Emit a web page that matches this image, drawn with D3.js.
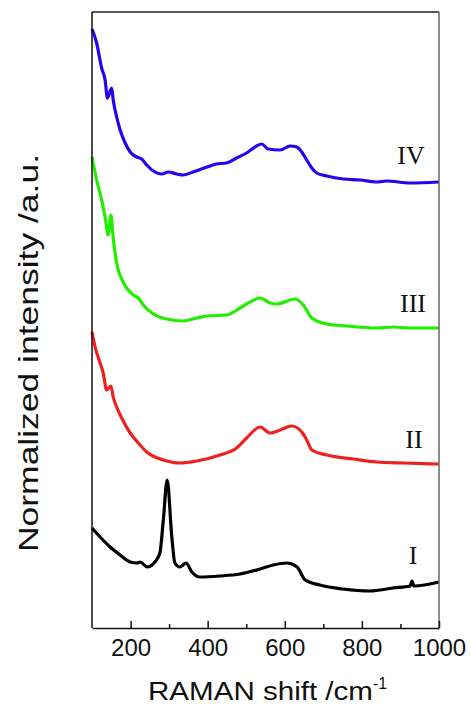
<!DOCTYPE html>
<html>
<head>
<meta charset="utf-8">
<script src="https://cdn.jsdelivr.net/npm/d3@7"></script>
<style>
  body { margin: 0; background: #fff; }
  .tick text { font-family: "Liberation Sans", Arial, sans-serif; font-size: 24px; fill: #111; }
</style>
</head>
<body>
<div id="chart"></div>
<script>
// Raman spectra, wavenumber (cm-1) vs stacked normalized intensity (a.u.)
var seriesNames = ["IV", "III", "II", "I"];
var seriesColors = ["#2a00ee", "#22ee00", "#ee2020", "#000000"];

var waveIV = [100, 112, 125, 134, 140, 151, 155, 164, 173, 186, 199, 216, 229, 242, 259, 281, 298, 320, 336, 362, 398, 423, 449, 475, 501, 527, 540, 557, 588, 614, 631, 644, 657, 670, 683, 709, 752, 795, 839, 864, 925, 1000];
var intIV  = [599, 585, 560, 548, 530, 540, 528, 511, 498, 485, 476, 471, 469, 463, 457, 454, 456, 454, 453, 456, 461, 464, 465, 470, 475, 482, 484, 479, 478, 482, 481, 476, 468, 460, 455, 452, 449, 448, 446, 447, 445, 446];

var waveIII = [100, 112, 125, 134, 142, 149, 155, 164, 181, 207, 220, 233, 259, 294, 337, 372, 398, 449, 484, 510, 536, 562, 579, 627, 648, 670, 709, 761, 839, 882, 925, 1000];
var intIII  = [471, 448, 428, 411, 393, 413, 390, 365, 346, 333, 330, 323, 314, 309, 307, 310, 312, 313, 320, 326, 330, 325, 324, 329, 323, 310, 304, 302, 300, 301, 300, 300];

var waveII = [100, 108, 121, 129, 138, 149, 155, 164, 177, 199, 220, 242, 285, 328, 372, 432, 475, 501, 536, 562, 588, 618, 644, 657, 670, 709, 778, 839, 908, 1000];
var intII  = [296, 281, 265, 255, 238, 242, 231, 221, 210, 195, 185, 176, 168, 165, 167, 173, 180, 190, 201, 195, 198, 202, 196, 188, 178, 173, 169, 166, 165, 164];

var waveI = [100, 121, 147, 173, 199, 217, 225, 243, 263, 276, 285, 295, 307, 315, 328, 344, 359, 380, 432, 484, 536, 570, 606, 632, 653, 691, 751, 821, 881, 925, 930, 935, 1000];
var intI  = [100, 91, 81, 73, 66, 65, 66, 61, 66, 75, 108, 148, 91, 65, 61, 65, 56, 51, 52, 54, 59, 63, 65, 61, 48, 43, 39, 37, 40, 42, 47, 42, 46];

var xTicks = [200, 400, 600, 800, 1000];
var xMinorTicks = [300, 500, 700, 900];

var width = 471,
    height = 710,
    margin = {top: 12, right: 32, bottom: 82, left: 92};

var svg = d3.select("#chart").append("svg")
    .attr("width", width)
    .attr("height", height);

var x = d3.scaleLinear()
    .domain([100, 1000])
    .range([margin.left, width - margin.right]);

var y = d3.scaleLinear()
    .domain([0, 616])
    .range([height - margin.bottom, margin.top]);

var series = [
    {name: "IV", wave: waveIV, val: intIV, lx: 411, ly: 164},
    {name: "III", wave: waveIII, val: intIII, lx: 413, ly: 312},
    {name: "II", wave: waveII, val: intII, lx: 414, ly: 448},
    {name: "I", wave: waveI, val: intI, lx: 413, ly: 564}
];

var line = d3.line()
    .x(d => x(d[0]))
    .y(d => y(d[1]))
    .curve(d3.curveMonotoneX);

var g = svg.append("g");

series.forEach(function (s, i) {
    var pts = s.wave.map((w, j) => [w, s.val[j]]);
    g.append("path")
        .datum(pts)
        .attr("fill", "none")
        .attr("stroke", seriesColors[i])
        .attr("stroke-width", 3.2)
        .attr("stroke-linejoin", "round")
        .attr("d", line);
    g.append("text")
        .attr("x", s.lx)
        .attr("y", s.ly)
        .attr("text-anchor", "middle")
        .style("font-family", "'Liberation Serif', 'Times New Roman', serif")
        .style("font-size", "26px")
        .style("fill", "#111")
        .text(seriesNames[i]);
});

// frame
var x0 = x.range()[0], x1 = x.range()[1], y0 = y.range()[0], y1 = y.range()[1];
svg.append("line").attr("x1", x0).attr("x2", x1).attr("y1", y1).attr("y2", y1)
    .attr("stroke", "#222").attr("stroke-width", 1.5);
svg.append("line").attr("x1", x1).attr("x2", x1).attr("y1", y1).attr("y2", y0)
    .attr("stroke", "#666").attr("stroke-width", 1.5);
svg.append("line").attr("x1", x0).attr("x2", x0).attr("y1", y1).attr("y2", y0)
    .attr("stroke", "#111").attr("stroke-width", 1.5);

var xAxis = svg.append("g")
    .attr("transform", "translate(0," + y0 + ")")
    .call(d3.axisBottom(x).tickValues(xTicks).tickFormat(d3.format("d"))
        .tickSizeInner(-7).tickSizeOuter(0).tickPadding(11));
xAxis.select(".domain").attr("stroke", "#111").attr("stroke-width", 1.5);
xAxis.selectAll(".tick line").attr("stroke", "#111").attr("stroke-width", 1.5);

var xMinor = svg.append("g")
    .attr("transform", "translate(0," + y0 + ")")
    .call(d3.axisBottom(x).tickValues(xMinorTicks).tickSizeInner(-4).tickSizeOuter(0).tickFormat(""));
xMinor.select(".domain").remove();
xMinor.selectAll(".tick line").attr("stroke", "#111").attr("stroke-width", 1.5);

// axis titles
var xt = svg.append("text")
    .attr("x", 148)
    .attr("y", 700)
    .style("font-family", "'Liberation Sans', Arial, sans-serif")
    .style("font-size", "26px")
    .style("fill", "#111");
xt.append("tspan").attr("textLength", 225).attr("lengthAdjust", "spacingAndGlyphs").text("RAMAN shift /cm");
xt.append("tspan").attr("dy", -11).style("font-size", "16px").text("-1");

svg.append("text")
    .attr("transform", "translate(38,353) rotate(-90)")
    .attr("text-anchor", "middle")
    .attr("textLength", 398)
    .attr("lengthAdjust", "spacingAndGlyphs")
    .style("font-family", "'Liberation Sans', Arial, sans-serif")
    .style("font-size", "28px")
    .style("fill", "#111")
    .text("Normalized intensity /a.u.");
</script>
</body>
</html>
